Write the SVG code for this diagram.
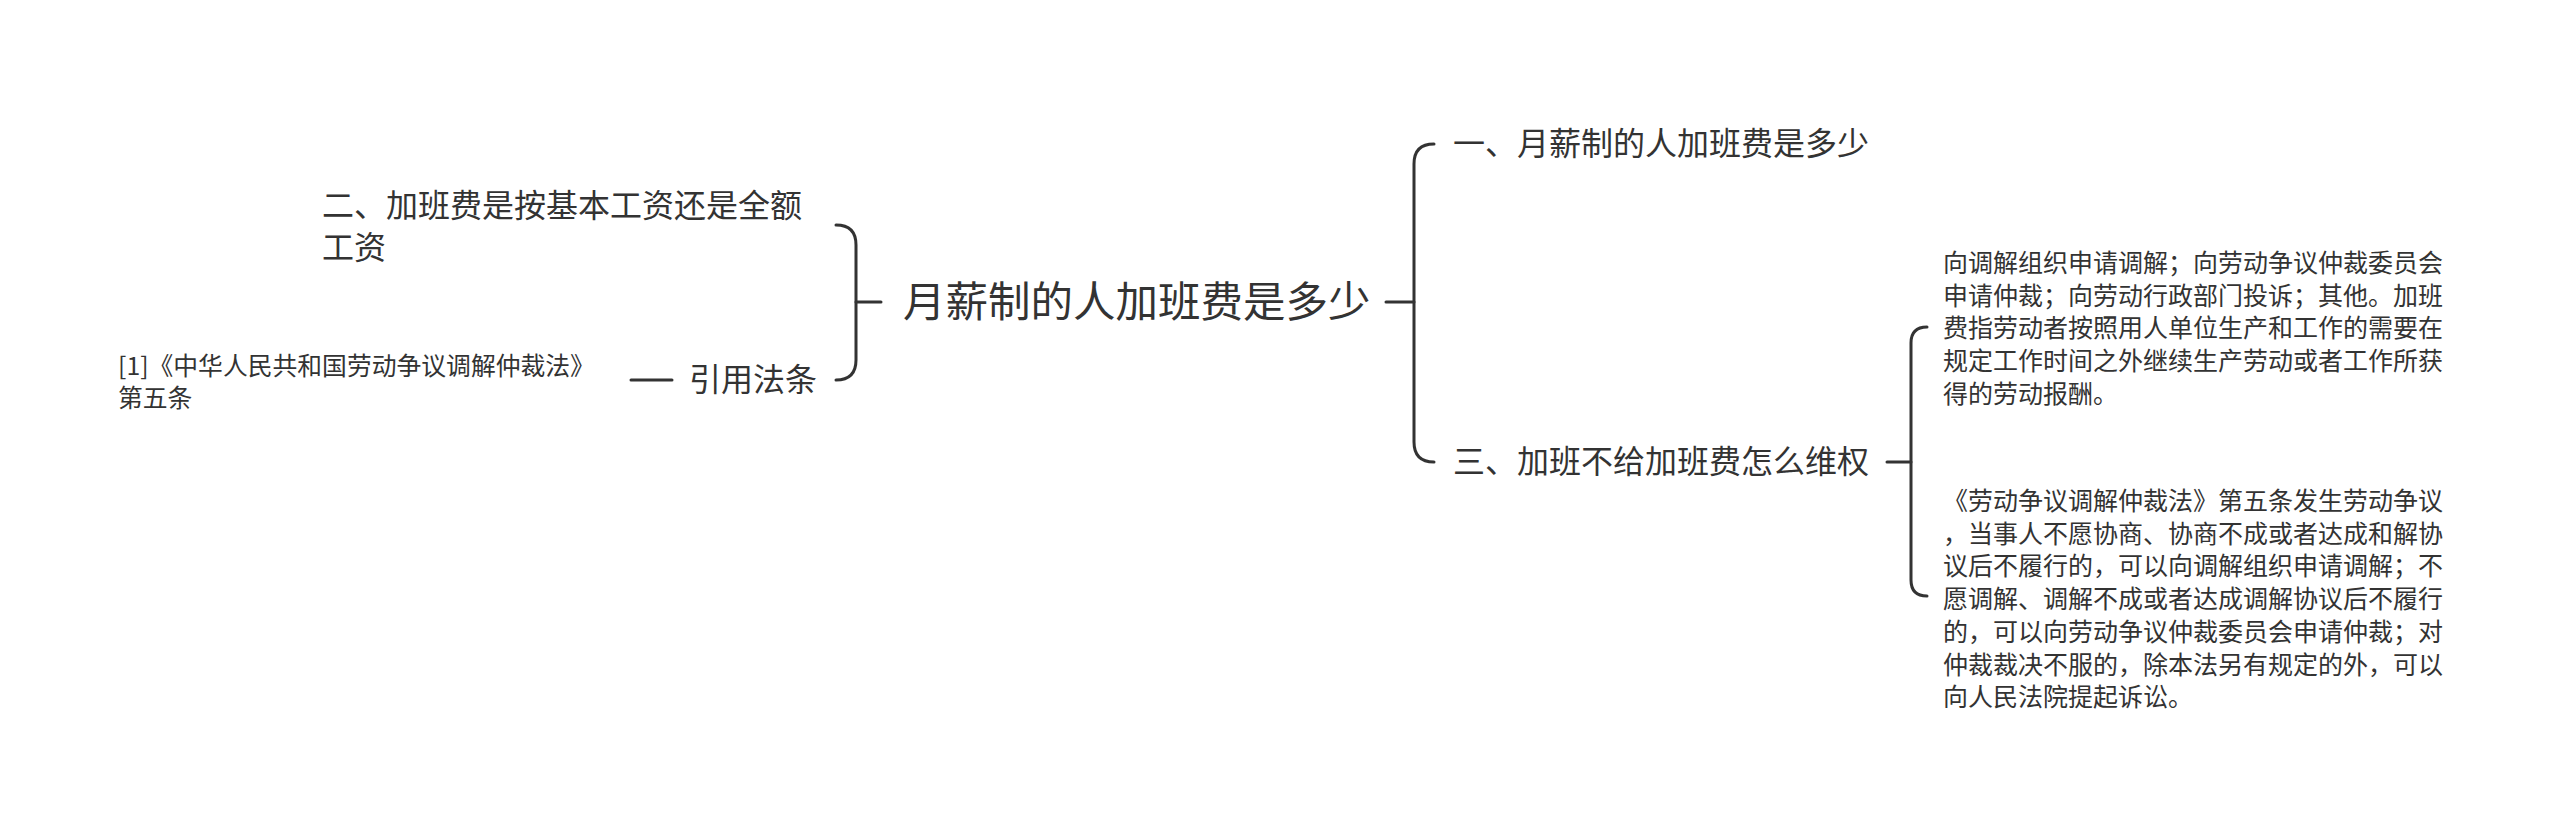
<svg xmlns="http://www.w3.org/2000/svg" width="2560" height="827" viewBox="0 0 2560 827">
<style>
text{font-family:"Microsoft YaHei","Noto Sans CJK SC","Noto Sans",sans-serif;fill:#333333;}
.t42{font-size:42.5px;}
.t32{font-size:32px;}
.t25{font-size:25px;}
.t24{font-size:24.8px;}
.link{fill:none;stroke:#333333;stroke-width:3;stroke-linecap:round;stroke-linejoin:round;}
</style>
<rect width="2560" height="827" fill="#ffffff"/>
<g id="connectors">
<path class="link" d="M836,225 Q856,225 856,245 L856,360 Q856,380 836,380"/>
<path class="link" d="M856,302 L881,302"/>
<path class="link" d="M1434,144 Q1414,144 1414,164 L1414,442 Q1414,462 1434,462"/>
<path class="link" d="M1386,302 L1414,302"/>
<path class="link" d="M1927,327 Q1911,327 1911,343 L1911,580 Q1911,596 1927,596"/>
<path class="link" d="M1887,462 L1911,462"/>
<path class="link" d="M631,380 L672,380"/>
</g>
<g id="root">
<text class="t42" x="903" y="317">月薪制的人加班费是多少</text>
</g>
<g id="node-2">
<text class="t32" x="322" y="217">二、加班费是按基本工资还是全额</text>
<text class="t32" x="322" y="259">工资</text>
</g>
<g id="node-cite">
<text class="t32" x="689" y="391">引用法条</text>
</g>
<g id="node-cite-detail">
<text class="t24" x="118" y="375">[1]《中华人民共和国劳动争议调解仲裁法》</text>
<text class="t24" x="118" y="407">第五条</text>
</g>
<g id="node-1">
<text class="t32" x="1453" y="155">一、月薪制的人加班费是多少</text>
</g>
<g id="node-3">
<text class="t32" x="1453" y="473">三、加班不给加班费怎么维权</text>
</g>
<g id="node-3a">
<text class="t25" x="1943" y="272">向调解组织申请调解；向劳动争议仲裁委员会</text>
<text class="t25" x="1943" y="305">申请仲裁；向劳动行政部门投诉；其他。加班</text>
<text class="t25" x="1943" y="337">费指劳动者按照用人单位生产和工作的需要在</text>
<text class="t25" x="1943" y="370">规定工作时间之外继续生产劳动或者工作所获</text>
<text class="t25" x="1943" y="403">得的劳动报酬。</text>
</g>
<g id="node-3b">
<text class="t25" x="1943" y="510">《劳动争议调解仲裁法》第五条发生劳动争议</text>
<text class="t25" x="1943" y="543">，当事人不愿协商、协商不成或者达成和解协</text>
<text class="t25" x="1943" y="575">议后不履行的，可以向调解组织申请调解；不</text>
<text class="t25" x="1943" y="608">愿调解、调解不成或者达成调解协议后不履行</text>
<text class="t25" x="1943" y="641">的，可以向劳动争议仲裁委员会申请仲裁；对</text>
<text class="t25" x="1943" y="674">仲裁裁决不服的，除本法另有规定的外，可以</text>
<text class="t25" x="1943" y="706">向人民法院提起诉讼。</text>
</g>
</svg>
